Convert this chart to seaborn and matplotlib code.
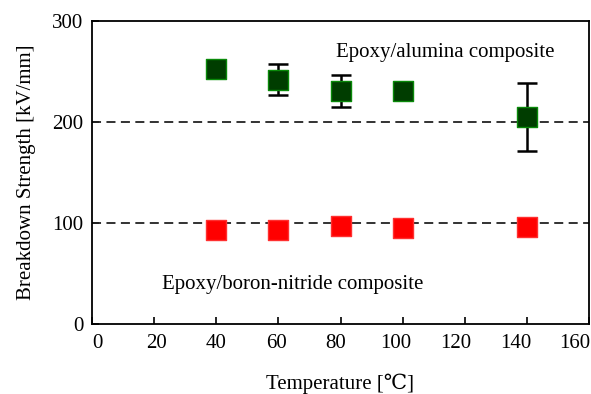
import matplotlib
matplotlib.use("Agg")
import matplotlib.pyplot as plt
import seaborn as sns
import pandas as pd

temps = [40, 60, 80, 100, 140]
alumina = [252, 242, 231, 231, 205]
alumina_err = [4, 15, 16, 3, 34]
bn = [93, 93, 97.5, 95.5, 96]
bn_err = [5, 5, 6, 5, 5]
xticks = [0, 20, 40, 60, 80, 100, 120, 140, 160]
xtick_labels = ['0', '20', '40', '60', '80', '100', '120', '140', '160']
yticks = [0, 100, 200, 300]
ref_lines = [100, 200]

sns.set_theme(style="white")
plt.rcParams['font.family'] = ['Liberation Serif', 'DejaVu Serif']

fig = plt.figure(figsize=(5.91, 3.94), dpi=100)
ax = fig.add_axes([92/591, 70/394, 497/591, 303/394])

for y in ref_lines:
    ax.axhline(y, color='#222222', lw=1.3, ls=(0, (5, 3)), zorder=1)

ax.errorbar(temps, alumina, yerr=alumina_err, fmt='none', ecolor='black',
            elinewidth=1.8, capsize=7, capthick=1.8, zorder=2)
ax.errorbar(temps, bn, yerr=bn_err, fmt='none', ecolor='black',
            elinewidth=1.8, capsize=7, capthick=1.8, zorder=2)

df_a = pd.DataFrame({'T': temps, 'S': alumina})
df_b = pd.DataFrame({'T': temps, 'S': bn})
sns.scatterplot(data=df_a, x='T', y='S', marker='s', s=200, color='#003d00',
                edgecolor='#0a8a0a', linewidth=1.0, ax=ax, zorder=3)
sns.scatterplot(data=df_b, x='T', y='S', marker='s', s=200, color='#ff0000',
                edgecolor='#ff3030', linewidth=1.0, ax=ax, zorder=3)

ax.set_xlim(0, 160)
ax.set_ylim(0, 300)
# tick marks on the true scale (minor), labels on the slightly compressed
# positions seen in the reference (major, no marks)
label_pos = [1.6 + i * 19.24 for i in range(len(xtick_labels))]
ax.set_xticks(label_pos, xtick_labels)
ax.set_xticks(xticks, minor=True)
ax.set_yticks(yticks)
ax.tick_params(axis='x', which='major', length=0, labelsize=15, pad=7, colors='black')
ax.tick_params(axis='x', which='minor', direction='in', length=5, width=1.2,
               bottom=True, top=False, colors='black', pad=0)
ax.tick_params(axis='y', direction='in', length=5, width=1.2, colors='black',
               labelsize=15, pad=6, left=True, right=False)
for sp in ax.spines.values():
    sp.set_color('black')
    sp.set_linewidth(1.3)

ax.set_xlabel('Temperature [℃]', fontsize=15, labelpad=15, color='black')
ax.set_ylabel('Breakdown Strength [kV/mm]', fontsize=15, labelpad=12, color='black')

ax.text(78.5, 269, 'Epoxy/alumina composite', fontsize=15, va='center', ha='left', color='black')
ax.text(22.5, 39.5, 'Epoxy/boron-nitride composite', fontsize=15, va='center', ha='left', color='black')

fig.savefig('out.png', dpi=100)
